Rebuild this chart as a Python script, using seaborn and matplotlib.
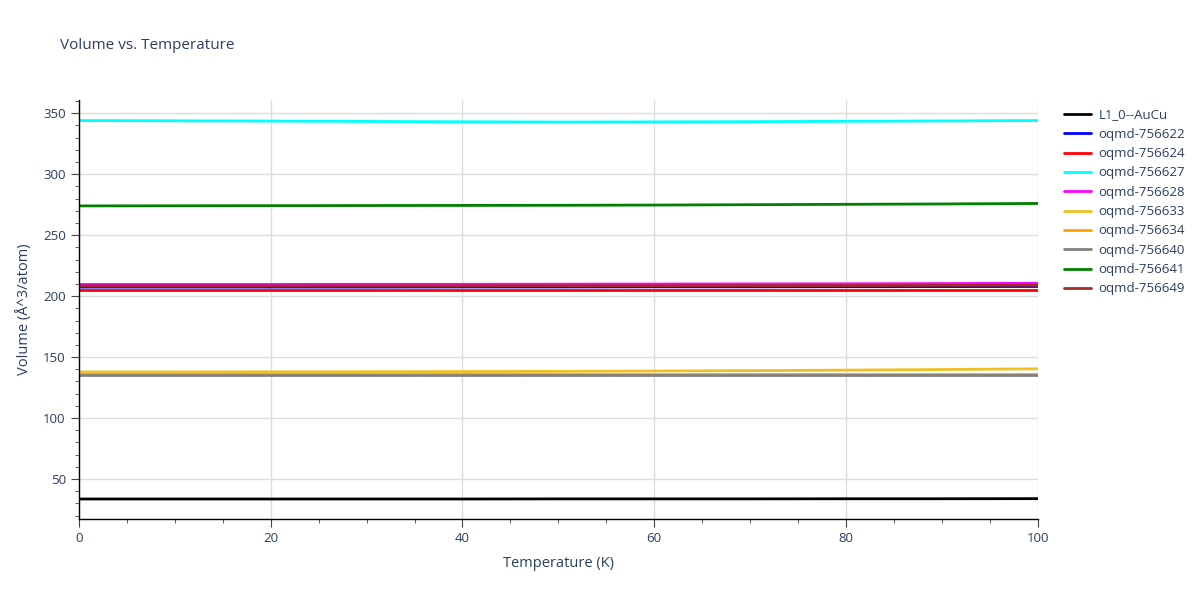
import numpy as np
import pandas as pd
import seaborn as sns
import matplotlib.pyplot as plt
from matplotlib.ticker import MultipleLocator

# temperatures (K) and volumes
temps = [0, 10, 20, 30, 40, 50, 60, 70, 80, 90, 100]

names = ['L1_0--AuCu', 'oqmd-756622', 'oqmd-756624', 'oqmd-756627', 'oqmd-756628',
         'oqmd-756633', 'oqmd-756634', 'oqmd-756640', 'oqmd-756641', 'oqmd-756649']
colors = ['black', 'blue', 'red', 'cyan', 'magenta',
          '#f0c020', 'orange', 'gray', 'green', 'brown']

v_auc = [33.6, 33.6, 33.6, 33.6, 33.6, 33.7, 33.7, 33.7, 33.8, 33.8, 33.9]
v_622 = [207.4, 207.4, 207.4, 207.4, 207.5, 207.5, 207.6, 207.6, 207.7, 207.8, 207.9]
v_624 = [205.2, 205.2, 205.2, 205.2, 205.2, 205.2, 205.2, 205.2, 205.2, 205.2, 205.2]
v_627 = [344.0, 343.8, 343.6, 343.3, 343.0, 342.8, 342.9, 343.1, 343.4, 343.7, 344.0]
v_628 = [209.6, 209.6, 209.6, 209.7, 209.7, 209.8, 209.9, 210.0, 210.1, 210.3, 210.5]
v_633 = [137.8, 137.8, 137.9, 138.0, 138.1, 138.3, 138.6, 138.9, 139.3, 139.8, 140.4]
v_634 = [136.3, 136.3, 136.3, 136.3, 136.3, 136.3, 136.3, 136.3, 136.3, 136.3, 136.3]
v_640 = [135.3, 135.3, 135.3, 135.3, 135.3, 135.3, 135.3, 135.3, 135.3, 135.3, 135.3]
v_641 = [274.0, 274.1, 274.2, 274.3, 274.4, 274.5, 274.7, 275.0, 275.3, 275.6, 276.0]
v_649 = [208.3, 208.3, 208.3, 208.4, 208.4, 208.5, 208.5, 208.6, 208.7, 208.8, 208.9]

series = [v_auc, v_622, v_624, v_627, v_628, v_633, v_634, v_640, v_641, v_649]

df = pd.DataFrame({
    'Temperature': temps * len(names),
    'Volume': np.concatenate(series),
    'name': np.repeat(names, len(temps)),
})

sns.set_style('white')
plt.rcParams['font.family'] = ['Open Sans', 'DejaVu Sans']
txt = '#2a3f5f'

fig = plt.figure(figsize=(12, 6), dpi=100)
ax = fig.add_axes([0.0658, 0.135, 0.799, 0.698])

sns.lineplot(data=df, x='Temperature', y='Volume', hue='name', hue_order=names,
             palette=dict(zip(names, colors)), linewidth=2, ax=ax)

ax.set_xlim(0, 100)
ax.set_ylim(17.2, 360.7)
ax.xaxis.set_major_locator(MultipleLocator(20))
ax.xaxis.set_minor_locator(MultipleLocator(5))
ax.yaxis.set_major_locator(MultipleLocator(50))
ax.yaxis.set_minor_locator(MultipleLocator(10))
ax.grid(True, which='major', color='#dddddd', linewidth=1)
ax.set_axisbelow(True)
ax.tick_params(which='major', direction='out', length=6, color='#444444',
               labelsize=9.5, labelcolor=txt, left=True, bottom=True)
ax.tick_params(which='minor', direction='out', length=3, color='#444444', left=True, bottom=True)
for side in ['top', 'right']:
    ax.spines[side].set_visible(False)
for side in ['left', 'bottom']:
    ax.spines[side].set_color('black')
    ax.spines[side].set_linewidth(1)

ax.set_xlabel('Temperature (K)', fontsize=10.5, color=txt, labelpad=8)
ax.set_ylabel('Volume (Å^3/atom)', fontsize=10.5, color=txt, labelpad=8)
fig.text(0.05, 0.918, 'Volume vs. Temperature', fontsize=11, color=txt)

leg = ax.legend(loc='upper left', bbox_to_anchor=(0.8825, 0.828), bbox_transform=fig.transFigure,
                frameon=False, fontsize=9.5, handlelength=2.0, handletextpad=0.6,
                labelspacing=0.48, borderaxespad=0)
for t in leg.get_texts():
    t.set_color(txt)

fig.savefig('out.png', dpi=100)
